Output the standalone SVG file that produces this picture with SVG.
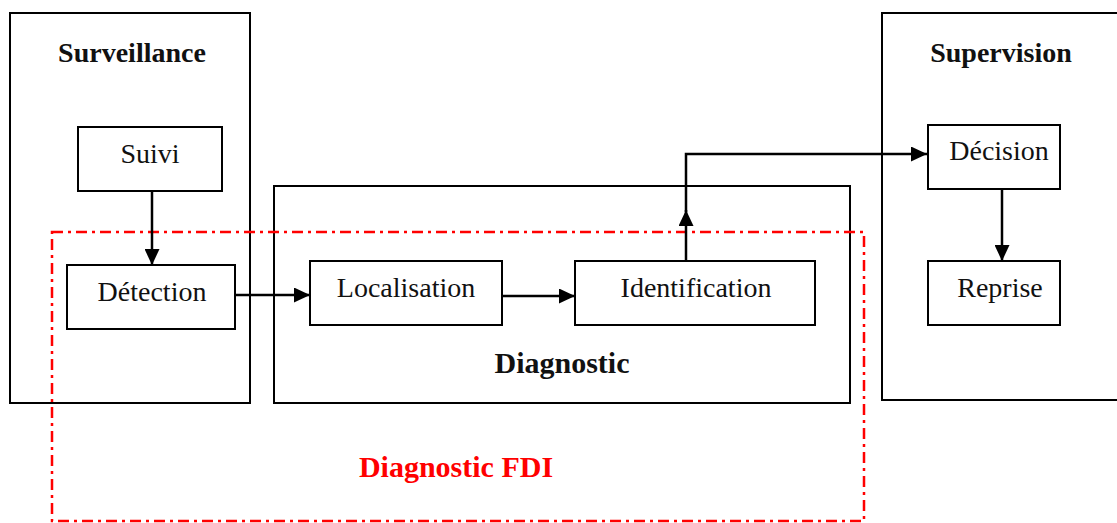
<svg xmlns="http://www.w3.org/2000/svg" width="1117" height="523" viewBox="0 0 1117 523">
<defs>
<marker id="ah" viewBox="0 0 16 15" refX="16" refY="7.5" markerWidth="16" markerHeight="15" markerUnits="userSpaceOnUse" orient="auto">
<path d="M0,0 L16,7.5 L0,15 z" fill="#000"/>
</marker>
<style>
.box{fill:#fff;stroke:#000;stroke-width:2}
.grp{fill:none;stroke:#000;stroke-width:2}
.t{font-family:"Liberation Serif","DejaVu Serif",serif;font-size:28px;fill:#111;text-anchor:middle}
.h{font-family:"Liberation Serif","DejaVu Serif",serif;font-size:28px;font-weight:bold;fill:#111;text-anchor:middle}
.c{fill:none;stroke:#000;stroke-width:2.5}
.fdi{fill:none;stroke:#ff0000;stroke-width:2.5;stroke-dasharray:11,5,3,5}
</style>
</defs>
<rect width="1117" height="523" fill="#fff"/>
<g id="surveillance">
<rect class="grp" x="10" y="13" width="240" height="390"/>
<text class="h" x="132" y="62">Surveillance</text>
</g>
<g id="diagnostic">
<rect class="grp" x="274" y="186" width="576" height="217"/>
<text class="h" x="562" y="373" style="font-size:30px">Diagnostic</text>
</g>
<g id="supervision">
<rect class="grp" x="882" y="13" width="240" height="387"/>
<text class="h" x="1001" y="62">Supervision</text>
</g>
<g id="suivi">
<rect class="box" x="78" y="127" width="144" height="64"/>
<text class="t" x="150" y="163">Suivi</text>
</g>
<g id="detection">
<rect class="box" x="67" y="265" width="168" height="64"/>
<text class="t" x="152" y="301">Détection</text>
</g>
<g id="localisation">
<rect class="box" x="310" y="261" width="192" height="64"/>
<text class="t" x="406" y="297">Localisation</text>
</g>
<g id="identification">
<rect class="box" x="575" y="261" width="240" height="64"/>
<text class="t" x="696" y="297">Identification</text>
</g>
<g id="decision">
<rect class="box" x="928" y="125" width="132" height="64"/>
<text class="t" x="999" y="160">Décision</text>
</g>
<g id="reprise">
<rect class="box" x="928" y="261" width="132" height="64"/>
<text class="t" x="1000" y="297">Reprise</text>
</g>
<g id="fdi">
<rect class="fdi" x="52" y="232" width="812" height="289"/>
<text x="456" y="477" font-family="'Liberation Serif','DejaVu Serif',serif" font-size="30" font-weight="bold" fill="#ff0000" text-anchor="middle">Diagnostic FDI</text>
</g>
<g id="connectors">
<line class="c" x1="152" y1="191" x2="152" y2="265" marker-end="url(#ah)"/>
<line class="c" x1="235" y1="295" x2="310" y2="295" marker-end="url(#ah)"/>
<line class="c" x1="502" y1="296" x2="575" y2="296" marker-end="url(#ah)"/>
<line class="c" x1="686" y1="249" x2="686" y2="210" marker-end="url(#ah)"/>
<line class="c" stroke-width="2" x1="686" y1="261" x2="686" y2="249"/>
<polyline class="c" stroke-width="2" points="686,212 686,154 927,154" marker-end="url(#ah)"/>
<line class="c" x1="1002" y1="189" x2="1002" y2="261" marker-end="url(#ah)"/>
</g>
</svg>
